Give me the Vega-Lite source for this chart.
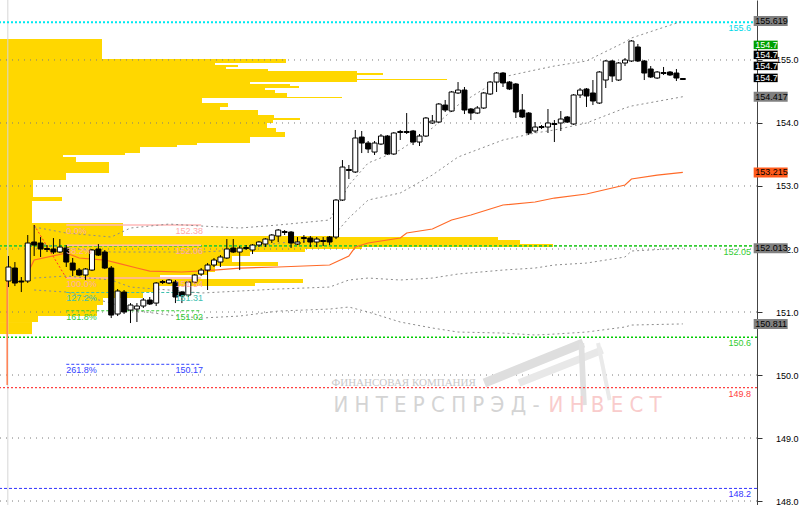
{
"$schema":"https://vega.github.io/schema/vega-lite/v6.json",
"width":757,"height":505,
"autosize":{"type":"none"},
"padding":{"left":0,"top":0,"right":43,"bottom":0},
"background":"#ffffff",
"config":{"view":{"stroke":null},"font":"Liberation Sans"},
"datasets":{
"candles":[
{"i":0,"o":151.492,"h":151.889,"l":151.396,"c":151.714},
{"i":1,"o":151.698,"h":151.793,"l":151.412,"c":151.460},
{"i":2,"o":151.492,"h":151.555,"l":151.317,"c":151.476},
{"i":3,"o":151.492,"h":152.222,"l":151.460,"c":152.095},
{"i":4,"o":152.111,"h":152.381,"l":151.889,"c":152.063},
{"i":5,"o":152.095,"h":152.190,"l":151.873,"c":152.000},
{"i":6,"o":152.008,"h":152.063,"l":151.952,"c":151.992},
{"i":7,"o":152.000,"h":152.174,"l":151.920,"c":151.952},
{"i":8,"o":151.952,"h":152.158,"l":151.936,"c":152.031},
{"i":9,"o":152.015,"h":152.063,"l":151.714,"c":151.793},
{"i":10,"o":151.777,"h":151.857,"l":151.571,"c":151.666},
{"i":11,"o":151.666,"h":151.698,"l":151.571,"c":151.587},
{"i":12,"o":151.587,"h":151.698,"l":151.508,"c":151.682},
{"i":13,"o":151.666,"h":152.000,"l":151.650,"c":151.984},
{"i":14,"o":152.000,"h":152.079,"l":151.889,"c":151.904},
{"i":15,"o":151.952,"h":151.984,"l":151.682,"c":151.698},
{"i":16,"o":151.698,"h":151.730,"l":150.904,"c":150.952},
{"i":17,"o":150.968,"h":151.365,"l":150.936,"c":151.333},
{"i":18,"o":151.317,"h":151.349,"l":150.968,"c":151.000},
{"i":19,"o":151.031,"h":151.142,"l":150.825,"c":151.111},
{"i":20,"o":151.047,"h":151.142,"l":150.841,"c":151.095},
{"i":21,"o":151.095,"h":151.222,"l":151.063,"c":151.190},
{"i":22,"o":151.190,"h":151.238,"l":151.111,"c":151.127},
{"i":23,"o":151.142,"h":151.476,"l":151.095,"c":151.460},
{"i":24,"o":151.468,"h":151.508,"l":151.444,"c":151.484},
{"i":25,"o":151.460,"h":151.523,"l":151.444,"c":151.508},
{"i":26,"o":151.476,"h":151.508,"l":151.142,"c":151.238},
{"i":27,"o":151.317,"h":151.333,"l":151.142,"c":151.254},
{"i":28,"o":151.269,"h":151.492,"l":151.238,"c":151.476},
{"i":29,"o":151.476,"h":151.603,"l":151.444,"c":151.587},
{"i":30,"o":151.603,"h":151.698,"l":151.571,"c":151.666},
{"i":31,"o":151.666,"h":151.777,"l":151.349,"c":151.746},
{"i":32,"o":151.746,"h":151.857,"l":151.714,"c":151.825},
{"i":33,"o":151.793,"h":151.904,"l":151.714,"c":151.873},
{"i":34,"o":151.857,"h":152.158,"l":151.841,"c":152.000},
{"i":35,"o":152.015,"h":152.158,"l":151.936,"c":151.952},
{"i":36,"o":151.952,"h":152.047,"l":151.666,"c":152.015},
{"i":37,"o":152.023,"h":152.063,"l":151.984,"c":152.008},
{"i":38,"o":151.984,"h":152.079,"l":151.920,"c":152.063},
{"i":39,"o":152.063,"h":152.127,"l":152.031,"c":152.111},
{"i":40,"o":152.079,"h":152.174,"l":152.031,"c":152.158},
{"i":41,"o":152.142,"h":152.238,"l":152.095,"c":152.222},
{"i":42,"o":152.206,"h":152.317,"l":152.111,"c":152.301},
{"i":43,"o":152.277,"h":152.301,"l":152.222,"c":152.262},
{"i":44,"o":152.269,"h":152.285,"l":152.015,"c":152.095},
{"i":45,"o":152.079,"h":152.190,"l":152.063,"c":152.111},
{"i":46,"o":152.182,"h":152.222,"l":152.095,"c":152.166},
{"i":47,"o":152.174,"h":152.206,"l":152.031,"c":152.111},
{"i":48,"o":152.111,"h":152.190,"l":152.031,"c":152.158},
{"i":49,"o":152.135,"h":152.190,"l":152.047,"c":152.119},
{"i":50,"o":152.190,"h":152.206,"l":152.063,"c":152.111},
{"i":51,"o":152.190,"h":152.793,"l":152.158,"c":152.777},
{"i":52,"o":152.777,"h":153.412,"l":152.762,"c":153.301},
{"i":53,"o":153.262,"h":153.333,"l":153.111,"c":153.246},
{"i":54,"o":153.222,"h":153.889,"l":153.206,"c":153.762},
{"i":55,"o":153.777,"h":153.873,"l":153.523,"c":153.682},
{"i":56,"o":153.682,"h":153.714,"l":153.523,"c":153.587},
{"i":57,"o":153.539,"h":153.714,"l":153.492,"c":153.682},
{"i":58,"o":153.666,"h":153.825,"l":153.650,"c":153.793},
{"i":59,"o":153.793,"h":153.809,"l":153.492,"c":153.508},
{"i":60,"o":153.508,"h":153.857,"l":153.492,"c":153.841},
{"i":61,"o":153.865,"h":153.889,"l":153.730,"c":153.849},
{"i":62,"o":153.865,"h":154.158,"l":153.825,"c":153.849},
{"i":63,"o":153.873,"h":153.889,"l":153.650,"c":153.698},
{"i":64,"o":153.698,"h":153.825,"l":153.635,"c":153.793},
{"i":65,"o":153.793,"h":154.095,"l":153.777,"c":154.079},
{"i":66,"o":154.000,"h":154.127,"l":153.984,"c":154.031},
{"i":67,"o":154.015,"h":154.317,"l":154.000,"c":154.301},
{"i":68,"o":154.285,"h":154.365,"l":154.174,"c":154.206},
{"i":69,"o":154.190,"h":154.508,"l":154.174,"c":154.492},
{"i":70,"o":154.476,"h":154.650,"l":154.460,"c":154.523},
{"i":71,"o":154.523,"h":154.571,"l":154.142,"c":154.206},
{"i":72,"o":154.222,"h":154.238,"l":154.047,"c":154.158},
{"i":73,"o":154.158,"h":154.269,"l":154.142,"c":154.238},
{"i":74,"o":154.238,"h":154.492,"l":154.222,"c":154.476},
{"i":75,"o":154.460,"h":154.666,"l":154.444,"c":154.650},
{"i":76,"o":154.650,"h":154.809,"l":154.492,"c":154.793},
{"i":77,"o":154.793,"h":154.809,"l":154.571,"c":154.635},
{"i":78,"o":154.650,"h":154.666,"l":154.523,"c":154.539},
{"i":79,"o":154.619,"h":154.635,"l":154.079,"c":154.174},
{"i":80,"o":154.206,"h":154.460,"l":154.079,"c":154.095},
{"i":81,"o":154.158,"h":154.174,"l":153.809,"c":153.841},
{"i":82,"o":153.873,"h":154.015,"l":153.841,"c":153.936},
{"i":83,"o":153.944,"h":153.968,"l":153.904,"c":153.928},
{"i":84,"o":153.936,"h":154.222,"l":153.841,"c":154.000},
{"i":85,"o":153.992,"h":154.047,"l":153.698,"c":153.976},
{"i":86,"o":154.000,"h":154.190,"l":153.873,"c":154.063},
{"i":87,"o":154.095,"h":154.111,"l":154.000,"c":154.015},
{"i":88,"o":153.984,"h":154.460,"l":153.968,"c":154.444},
{"i":89,"o":154.444,"h":154.555,"l":154.396,"c":154.523},
{"i":90,"o":154.539,"h":154.555,"l":154.254,"c":154.428},
{"i":91,"o":154.476,"h":154.682,"l":154.285,"c":154.349},
{"i":92,"o":154.317,"h":154.825,"l":154.301,"c":154.809},
{"i":93,"o":154.682,"h":155.000,"l":154.555,"c":154.984},
{"i":94,"o":154.984,"h":155.000,"l":154.650,"c":154.746},
{"i":95,"o":154.682,"h":154.968,"l":154.666,"c":154.952},
{"i":96,"o":154.952,"h":155.031,"l":154.904,"c":155.000},
{"i":97,"o":154.984,"h":155.317,"l":154.968,"c":155.301},
{"i":98,"o":155.206,"h":155.254,"l":154.968,"c":154.984},
{"i":99,"o":154.984,"h":155.000,"l":154.682,"c":154.793},
{"i":100,"o":154.857,"h":154.904,"l":154.714,"c":154.730},
{"i":101,"o":154.714,"h":154.825,"l":154.698,"c":154.809},
{"i":102,"o":154.801,"h":154.889,"l":154.762,"c":154.785},
{"i":103,"o":154.809,"h":154.825,"l":154.746,"c":154.762},
{"i":104,"o":154.793,"h":154.857,"l":154.666,"c":154.714},
{"i":105,"o":154.706,"h":154.714,"l":154.682,"c":154.690}
],
"profile":[
{"hi":155.333,"lo":155.015,"vol":102},{"hi":155.015,"lo":154.952,"vol":286},{"hi":154.952,"lo":154.920,"vol":215},{"hi":154.920,"lo":154.889,"vol":238},{"hi":154.889,"lo":154.857,"vol":226},{"hi":154.857,"lo":154.825,"vol":268},{"hi":154.825,"lo":154.793,"vol":357},{"hi":154.793,"lo":154.762,"vol":383},{"hi":154.762,"lo":154.698,"vol":357},{"hi":154.698,"lo":154.682,"vol":447},{"hi":154.682,"lo":154.650,"vol":357},{"hi":154.650,"lo":154.619,"vol":250},{"hi":154.619,"lo":154.587,"vol":290},{"hi":154.587,"lo":154.555,"vol":299},{"hi":154.555,"lo":154.523,"vol":265},{"hi":154.523,"lo":154.476,"vol":275},{"hi":154.476,"lo":154.412,"vol":287},{"hi":154.412,"lo":154.396,"vol":342},{"hi":154.396,"lo":154.317,"vol":202},{"hi":154.317,"lo":154.254,"vol":228},{"hi":154.254,"lo":154.206,"vol":220},{"hi":154.206,"lo":154.127,"vol":258},{"hi":154.127,"lo":154.079,"vol":274},{"hi":154.079,"lo":154.047,"vol":300},{"hi":154.047,"lo":154.000,"vol":273},{"hi":154.000,"lo":153.920,"vol":267},{"hi":153.920,"lo":153.857,"vol":276},{"hi":153.857,"lo":153.777,"vol":285},{"hi":153.777,"lo":153.682,"vol":250},{"hi":153.682,"lo":153.650,"vol":197},{"hi":153.650,"lo":153.619,"vol":177},{"hi":153.619,"lo":153.523,"vol":140},{"hi":153.523,"lo":153.492,"vol":125},{"hi":153.492,"lo":153.460,"vol":63},{"hi":153.460,"lo":153.381,"vol":76},{"hi":153.381,"lo":153.206,"vol":109},{"hi":153.206,"lo":153.095,"vol":66},{"hi":153.095,"lo":152.825,"vol":33},{"hi":152.825,"lo":152.762,"vol":62},{"hi":152.762,"lo":152.412,"vol":32},{"hi":152.412,"lo":152.206,"vol":123},{"hi":152.206,"lo":152.190,"vol":335},{"hi":152.190,"lo":152.142,"vol":498},{"hi":152.142,"lo":152.079,"vol":520},{"hi":152.079,"lo":152.031,"vol":553},{"hi":152.031,"lo":152.000,"vol":362},{"hi":152.000,"lo":151.952,"vol":305},{"hi":151.952,"lo":151.889,"vol":250},{"hi":151.889,"lo":151.793,"vol":232},{"hi":151.793,"lo":151.730,"vol":278},{"hi":151.730,"lo":151.635,"vol":215},{"hi":151.635,"lo":151.587,"vol":208},{"hi":151.587,"lo":151.523,"vol":160},{"hi":151.523,"lo":151.460,"vol":303},{"hi":151.460,"lo":151.412,"vol":255},{"hi":151.412,"lo":151.317,"vol":157},{"hi":151.317,"lo":151.222,"vol":143},{"hi":151.222,"lo":151.111,"vol":103},{"hi":151.111,"lo":150.936,"vol":97},{"hi":150.936,"lo":150.841,"vol":38},{"hi":150.841,"lo":150.650,"vol":32}
],
"ma":[
{"i":3,"p":151.619},{"i":4,"p":151.825},{"i":9,"p":151.936},{"i":11,"p":151.857},{"i":15,"p":151.825},{"i":17,"p":151.777},{"i":20,"p":151.698},{"i":22,"p":151.650},{"i":27,"p":151.635},{"i":32,"p":151.666},{"i":36,"p":151.698},{"i":42,"p":151.714},{"i":50,"p":151.746},{"i":53,"p":151.889},{"i":54,"p":152.031},{"i":56,"p":152.095},{"i":61,"p":152.174},{"i":62,"p":152.254},{"i":66,"p":152.317},{"i":69,"p":152.460},{"i":72,"p":152.539},{"i":75,"p":152.635},{"i":77,"p":152.698},{"i":82,"p":152.746},{"i":85,"p":152.809},{"i":90,"p":152.873},{"i":96,"p":153.016},{"i":97,"p":153.111},{"i":101,"p":153.174},{"i":105,"p":153.215}
],
"bands":[
{"i":4,"A":152.349,"B":152.095,"C":151.539,"D":151.349},
{"i":9,"A":152.254,"B":152.015,"C":151.571,"D":151.317},
{"i":16,"A":152.190,"B":151.952,"C":151.508,"D":151.142},
{"i":19,"A":152.333,"B":151.952,"C":151.396,"D":151.031},
{"i":25,"A":152.396,"B":151.952,"C":151.349,"D":150.952},
{"i":30,"A":152.365,"B":151.952,"C":151.301,"D":150.904},
{"i":36,"A":152.333,"B":151.984,"C":151.333,"D":150.936},
{"i":42,"A":152.381,"B":152.095,"C":151.365,"D":151.015},
{"i":50,"A":152.460,"B":152.142,"C":151.396,"D":151.047},
{"i":53,"A":153.015,"B":152.492,"C":151.508,"D":151.079},
{"i":56,"A":153.365,"B":152.777,"C":151.539,"D":151.000},
{"i":61,"A":153.571,"B":152.889,"C":151.508,"D":150.841},
{"i":66,"A":153.920,"B":153.174,"C":151.539,"D":150.746},
{"i":70,"A":154.285,"B":153.460,"C":151.603,"D":150.682},
{"i":77,"A":154.730,"B":153.730,"C":151.666,"D":150.666},
{"i":82,"A":154.841,"B":153.841,"C":151.698,"D":150.635},
{"i":85,"A":154.904,"B":153.889,"C":151.746,"D":150.650},
{"i":90,"A":154.984,"B":154.000,"C":151.777,"D":150.682},
{"i":96,"A":155.285,"B":154.238,"C":151.873,"D":150.762},
{"i":97,"A":155.349,"B":154.269,"C":151.968,"D":150.793},
{"i":105,"A":155.619,"B":154.417,"C":152.013,"D":150.811}
],
"logo":[
{"s":"A","i":74.1,"p":149.873},{"s":"A","i":89.5,"p":150.508},
{"s":"B","i":79.5,"p":149.873},{"s":"B","i":92.5,"p":150.397},
{"s":"C","i":89.2,"p":150.508},{"s":"C","i":89.6,"p":149.523},
{"s":"D","i":91.8,"p":150.508},{"s":"D","i":93.6,"p":149.603}
],
"grid":[{"p":148},{"p":149},{"p":150},{"p":151},{"p":152},{"p":153},{"p":154},{"p":155}],
"levels":[{"name":"155.6","p":155.6},{"name":"152.05","p":152.05},{"name":"150.6","p":150.6},{"name":"149.8","p":149.8},{"name":"148.2","p":148.2}],
"fib":[{"lvl":"0.0%","p":152.38},{"lvl":"38.2%","p":152.06},{"lvl":"100.0%","p":151.54},{"lvl":"127.2%","p":151.31},{"lvl":"161.8%","p":151.02},{"lvl":"261.8%","p":150.17}],
"boxes":[{"label":"155.619","p":155.619,"kind":"gray"},{"label":"154.417","p":154.417,"kind":"gray"},{"label":"153.215","p":153.215,"kind":"orange"},{"label":"152.013","p":152.013,"kind":"gray"},{"label":"150.811","p":150.811,"kind":"gray"}],
"stack":[{"label":"154.7","p":154.7,"slot":0,"kind":"green"},{"label":"154.7","p":154.7,"slot":1,"kind":"black"},{"label":"154.7","p":154.7,"slot":2,"kind":"black"},{"label":"154.7","p":154.7,"slot":3,"kind":"black"}]
},
"resolve":{"scale":{"x":"independent"}},
"layer":[
{"data":{"name":"profile"},"mark":{"type":"rect","color":"#FFD700"},
 "encoding":{
  "x":{"field":"vol","type":"quantitative","scale":{"domain":[0,757],"nice":false,"zero":false},"axis":null},
  "x2":{"datum":0},
  "y":{"field":"hi","type":"quantitative","scale":{"domain":[147.937,155.952],"nice":false,"zero":false},
       "axis":{"orient":"right","values":[148,149,150,151,152,153,154,155],"format":".1f","grid":false,"title":null,"tickSize":5,"labelAlign":"right","labelPadding":36,"labelFontSize":9,"labelColor":"#000000","tickColor":"#333333","domainColor":"#444444","labelBaseline":"middle"}},
  "y2":{"field":"lo"}}},
{"resolve":{"scale":{"color":"independent","fill":"independent","strokeDash":"independent","strokeWidth":"independent"}},
 "layer":[
 {"data":{"name":"grid"},"mark":{"type":"rule","color":"#7a7a7a","strokeDash":[1,5],"strokeWidth":1},
  "encoding":{"y":{"field":"p","type":"quantitative","scale":{"domain":[147.937,155.952],"nice":false,"zero":false}}}},
 {"data":{"values":[{"i":-0.1}]},"mark":{"type":"rule","color":"#d6d6d6","strokeWidth":1},
  "encoding":{"x":{"field":"i","type":"quantitative","scale":{"domain":[-0.54,115.77],"nice":false,"zero":false},"axis":null}}},
 {"data":{"name":"logo"},"mark":{"type":"line","strokeCap":"butt"},
  "encoding":{
   "x":{"field":"i","type":"quantitative","scale":{"domain":[-0.54,115.77],"nice":false,"zero":false},"axis":null},
   "y":{"field":"p","type":"quantitative","scale":{"domain":[147.937,155.952],"nice":false,"zero":false}},
   "detail":{"field":"s","type":"nominal"},
   "color":{"field":"s","type":"nominal","scale":{"domain":["A","B","C","D"],"range":["#dedede","#e8e8e8","#e0e0e0","#eaeaea"]},"legend":null},
   "strokeWidth":{"field":"s","type":"ordinal","scale":{"domain":["A","B","C","D"],"range":[9,4,10,7]},"legend":null}}},
 {"data":{"name":"levels"},"mark":{"type":"rule"},
  "encoding":{
   "y":{"field":"p","type":"quantitative","scale":{"domain":[147.937,155.952],"nice":false,"zero":false}},
   "color":{"field":"name","type":"nominal","scale":{"domain":["155.6","152.05","150.6","149.8","148.2"],"range":["#00e8f0","#33cc33","#00cc00","#ff4040","#3333ff"]},"legend":null},
   "strokeWidth":{"field":"name","type":"ordinal","scale":{"domain":["155.6","152.05","150.6","149.8","148.2"],"range":[2,1,2.5,1.5,1]},"legend":null},
   "strokeDash":{"field":"name","type":"nominal","scale":{"domain":["155.6","152.05","150.6","149.8","148.2"],"range":[[2,2],[3,2],[2,2],[2,2],[3,2]]},"legend":null}}},
 {"data":{"name":"fib"},"mark":{"type":"rule"},
  "encoding":{
   "x":{"datum":9,"type":"quantitative","scale":{"domain":[-0.54,115.77],"nice":false,"zero":false},"axis":null},
   "x2":{"datum":30},
   "y":{"field":"p","type":"quantitative","scale":{"domain":[147.937,155.952],"nice":false,"zero":false}},
   "color":{"field":"lvl","type":"nominal","scale":{"domain":["0.0%","38.2%","100.0%","127.2%","161.8%","261.8%"],"range":["#ffb8b8","#ffb8b8","#ffb0b0","#40c0b0","#33cc33","#3344ff"]},"legend":null},
   "strokeWidth":{"field":"lvl","type":"ordinal","scale":{"domain":["0.0%","38.2%","100.0%","127.2%","161.8%","261.8%"],"range":[1.5,1,2.5,1,1,1]},"legend":null},
   "strokeDash":{"field":"lvl","type":"nominal","scale":{"domain":["0.0%","38.2%","100.0%","127.2%","161.8%","261.8%"],"range":[[1,0],[1,0],[1,0],[3,2],[3,2],[3,2]]},"legend":null}}},
 {"data":{"values":[{"i":4,"p":152.38},{"i":9,"p":151.54}]},"mark":{"type":"line","color":"#ff3030","strokeDash":[2,2],"strokeWidth":1},
  "encoding":{
   "x":{"field":"i","type":"quantitative","scale":{"domain":[-0.54,115.77],"nice":false,"zero":false},"axis":null},
   "y":{"field":"p","type":"quantitative","scale":{"domain":[147.937,155.952],"nice":false,"zero":false}}}},
 {"data":{"values":[{"i":-0.2,"a":151.49,"b":149.84}]},"mark":{"type":"rule","color":"#ff7f50","strokeWidth":1.5},
  "encoding":{
   "x":{"field":"i","type":"quantitative","scale":{"domain":[-0.54,115.77],"nice":false,"zero":false},"axis":null},
   "y":{"field":"a","type":"quantitative","scale":{"domain":[147.937,155.952],"nice":false,"zero":false}},
   "y2":{"field":"b"}}},
 {"data":{"name":"bands"},"transform":[{"fold":["A","B","C","D"],"as":["band","p"]}],
  "mark":{"type":"line","color":"#8c8c8c","strokeDash":[2,3],"strokeWidth":1},
  "encoding":{
   "x":{"field":"i","type":"quantitative","scale":{"domain":[-0.54,115.77],"nice":false,"zero":false},"axis":null},
   "y":{"field":"p","type":"quantitative","scale":{"domain":[147.937,155.952],"nice":false,"zero":false}},
   "detail":{"field":"band","type":"nominal"}}},
 {"data":{"name":"ma"},"mark":{"type":"line","color":"#ff6a28","strokeWidth":1.2},
  "encoding":{
   "x":{"field":"i","type":"quantitative","scale":{"domain":[-0.54,115.77],"nice":false,"zero":false},"axis":null},
   "y":{"field":"p","type":"quantitative","scale":{"domain":[147.937,155.952],"nice":false,"zero":false}}}},
 {"data":{"name":"candles"},"mark":{"type":"rule","color":"#000000","strokeWidth":1},
  "encoding":{
   "x":{"field":"i","type":"quantitative","scale":{"domain":[-0.54,115.77],"nice":false,"zero":false},"axis":null},
   "y":{"field":"l","type":"quantitative","scale":{"domain":[147.937,155.952],"nice":false,"zero":false},
        "axis":{"orient":"right","values":[148,149,150,151,152,153,154,155],"format":".1f","grid":false,"title":null,"tickSize":5,"labelAlign":"right","labelPadding":36,"labelFontSize":9,"labelColor":"#000000","tickColor":"#333333","domainColor":"#444444","labelBaseline":"middle"}},
   "y2":{"field":"h"}}},
 {"data":{"name":"candles"},"mark":{"type":"bar","size":5,"stroke":"#000000","strokeWidth":1},
  "encoding":{
   "x":{"field":"i","type":"quantitative","scale":{"domain":[-0.54,115.77],"nice":false,"zero":false},"axis":null},
   "y":{"field":"o","type":"quantitative","scale":{"domain":[147.937,155.952],"nice":false,"zero":false}},
   "y2":{"field":"c"},
   "fill":{"condition":{"test":"datum.c >= datum.o","value":"#ffffff"},"value":"#000000"}}},
 {"data":{"name":"fib"},"mark":{"type":"text","align":"left","baseline":"top","dy":2,"fontSize":9},
  "encoding":{
   "x":{"datum":9,"type":"quantitative","scale":{"domain":[-0.54,115.77],"nice":false,"zero":false},"axis":null},
   "y":{"field":"p","type":"quantitative","scale":{"domain":[147.937,155.952],"nice":false,"zero":false}},
   "text":{"field":"lvl"},
   "color":{"field":"lvl","type":"nominal","scale":{"domain":["0.0%","38.2%","100.0%","127.2%","161.8%","261.8%"],"range":["#ffaaaa","#ffaaaa","#ffaaaa","#40c0b0","#33cc33","#3344ff"]},"legend":null}}},
 {"data":{"name":"fib"},"mark":{"type":"text","align":"left","baseline":"top","dy":2,"fontSize":9},
  "encoding":{
   "x":{"datum":26,"type":"quantitative","scale":{"domain":[-0.54,115.77],"nice":false,"zero":false},"axis":null},
   "y":{"field":"p","type":"quantitative","scale":{"domain":[147.937,155.952],"nice":false,"zero":false}},
   "text":{"field":"p","type":"quantitative","format":".2f"},
   "color":{"field":"lvl","type":"nominal","scale":{"domain":["0.0%","38.2%","100.0%","127.2%","161.8%","261.8%"],"range":["#ffaaaa","#ffaaaa","#ffaaaa","#40c0b0","#33cc33","#3344ff"]},"legend":null}}},
 {"data":{"name":"levels"},"mark":{"type":"text","align":"right","baseline":"top","dy":2,"fontSize":9},
  "encoding":{
   "x":{"datum":115.6,"type":"quantitative","scale":{"domain":[-0.54,115.77],"nice":false,"zero":false},"axis":null},
   "y":{"field":"p","type":"quantitative","scale":{"domain":[147.937,155.952],"nice":false,"zero":false}},
   "text":{"field":"name"},
   "color":{"field":"name","type":"nominal","scale":{"domain":["155.6","152.05","150.6","149.8","148.2"],"range":["#00d8e8","#33cc33","#33cc33","#ff4040","#3333ff"]},"legend":null}}},
 {"data":{"values":[{"t":"ФИНАНСОВАЯ КОМПАНИЯ","i":50.3,"p":149.873}]},"mark":{"type":"text","align":"left","baseline":"middle","font":"Liberation Serif","fontSize":11,"color":"#c8c8c8"},
  "encoding":{
   "x":{"field":"i","type":"quantitative","scale":{"domain":[-0.54,115.77],"nice":false,"zero":false},"axis":null},
   "y":{"field":"p","type":"quantitative","scale":{"domain":[147.937,155.952],"nice":false,"zero":false}},
   "text":{"field":"t"}}},
 {"data":{"values":[{"t":"И Н Т Е Р С П Р Э Д -","i":50.6,"p":149.523}]},"mark":{"type":"text","align":"left","baseline":"middle","font":"Liberation Sans Narrow, DejaVu Sans Condensed, sans-serif","fontSize":22,"color":"#d4d4d4"},
  "encoding":{
   "x":{"field":"i","type":"quantitative","scale":{"domain":[-0.54,115.77],"nice":false,"zero":false},"axis":null},
   "y":{"field":"p","type":"quantitative","scale":{"domain":[147.937,155.952],"nice":false,"zero":false}},
   "text":{"field":"t"}}},
 {"data":{"values":[{"t":"И Н В Е С Т","i":84.1,"p":149.523}]},"mark":{"type":"text","align":"left","baseline":"middle","font":"Liberation Sans Narrow, DejaVu Sans Condensed, sans-serif","fontSize":22,"color":"#f9cccc"},
  "encoding":{
   "x":{"field":"i","type":"quantitative","scale":{"domain":[-0.54,115.77],"nice":false,"zero":false},"axis":null},
   "y":{"field":"p","type":"quantitative","scale":{"domain":[147.937,155.952],"nice":false,"zero":false}},
   "text":{"field":"t"}}},
 {"data":{"name":"boxes"},"mark":{"type":"point","shape":"M0,-1H6.8V1H0Z","size":100,"filled":true,"opacity":1,"strokeWidth":0},
  "encoding":{
   "x":{"datum":116.03,"type":"quantitative","scale":{"domain":[-0.54,115.77],"nice":false,"zero":false},"axis":null},
   "y":{"field":"p","type":"quantitative","scale":{"domain":[147.937,155.952],"nice":false,"zero":false}},
   "fill":{"field":"kind","type":"nominal","scale":{"domain":["gray","orange","green","black"],"range":["#808080","#ff5a1a","#00a000","#000000"]},"legend":null}}},
 {"data":{"name":"boxes"},"mark":{"type":"text","align":"left","baseline":"middle","dx":1.5,"fontSize":9},
  "encoding":{
   "x":{"datum":116.03,"type":"quantitative","scale":{"domain":[-0.54,115.77],"nice":false,"zero":false},"axis":null},
   "y":{"field":"p","type":"quantitative","scale":{"domain":[147.937,155.952],"nice":false,"zero":false}},
   "text":{"field":"label"},
   "color":{"field":"kind","type":"nominal","scale":{"domain":["gray","orange","green","black"],"range":["#000000","#000000","#ffffff","#ffffff"]},"legend":null}}},
 {"data":{"name":"stack"},"transform":[{"filter":"datum.slot == 0"}],"mark":{"type":"point","shape":"M0,-0.85H4.8V0.85H0Z","size":100,"filled":true,"opacity":1,"strokeWidth":0,"color":"#00a000","yOffset":-34},
  "encoding":{
   "x":{"datum":116.03,"type":"quantitative","scale":{"domain":[-0.54,115.77],"nice":false,"zero":false},"axis":null},
   "y":{"field":"p","type":"quantitative","scale":{"domain":[147.937,155.952],"nice":false,"zero":false}}}},
 {"data":{"name":"stack"},"transform":[{"filter":"datum.slot == 1"}],"mark":{"type":"point","shape":"M0,-0.85H4.8V0.85H0Z","size":100,"filled":true,"opacity":1,"strokeWidth":0,"color":"#000000","yOffset":-24},
  "encoding":{
   "x":{"datum":116.03,"type":"quantitative","scale":{"domain":[-0.54,115.77],"nice":false,"zero":false},"axis":null},
   "y":{"field":"p","type":"quantitative","scale":{"domain":[147.937,155.952],"nice":false,"zero":false}}}},
 {"data":{"name":"stack"},"transform":[{"filter":"datum.slot == 2"}],"mark":{"type":"point","shape":"M0,-0.85H4.8V0.85H0Z","size":100,"filled":true,"opacity":1,"strokeWidth":0,"color":"#000000","yOffset":-13},
  "encoding":{
   "x":{"datum":116.03,"type":"quantitative","scale":{"domain":[-0.54,115.77],"nice":false,"zero":false},"axis":null},
   "y":{"field":"p","type":"quantitative","scale":{"domain":[147.937,155.952],"nice":false,"zero":false}}}},
 {"data":{"name":"stack"},"transform":[{"filter":"datum.slot == 3"}],"mark":{"type":"point","shape":"M0,-0.85H4.8V0.85H0Z","size":100,"filled":true,"opacity":1,"strokeWidth":0,"color":"#000000","yOffset":-1},
  "encoding":{
   "x":{"datum":116.03,"type":"quantitative","scale":{"domain":[-0.54,115.77],"nice":false,"zero":false},"axis":null},
   "y":{"field":"p","type":"quantitative","scale":{"domain":[147.937,155.952],"nice":false,"zero":false}}}},
 {"data":{"name":"stack"},"transform":[{"filter":"datum.slot == 0"}],"mark":{"type":"text","align":"left","baseline":"middle","dx":1.5,"fontSize":9,"color":"#ffffff","yOffset":-34},
  "encoding":{
   "x":{"datum":116.03,"type":"quantitative","scale":{"domain":[-0.54,115.77],"nice":false,"zero":false},"axis":null},
   "y":{"field":"p","type":"quantitative","scale":{"domain":[147.937,155.952],"nice":false,"zero":false}},
   "text":{"field":"label"}}},
 {"data":{"name":"stack"},"transform":[{"filter":"datum.slot == 1"}],"mark":{"type":"text","align":"left","baseline":"middle","dx":1.5,"fontSize":9,"color":"#ffffff","yOffset":-24},
  "encoding":{
   "x":{"datum":116.03,"type":"quantitative","scale":{"domain":[-0.54,115.77],"nice":false,"zero":false},"axis":null},
   "y":{"field":"p","type":"quantitative","scale":{"domain":[147.937,155.952],"nice":false,"zero":false}},
   "text":{"field":"label"}}},
 {"data":{"name":"stack"},"transform":[{"filter":"datum.slot == 2"}],"mark":{"type":"text","align":"left","baseline":"middle","dx":1.5,"fontSize":9,"color":"#ffffff","yOffset":-13},
  "encoding":{
   "x":{"datum":116.03,"type":"quantitative","scale":{"domain":[-0.54,115.77],"nice":false,"zero":false},"axis":null},
   "y":{"field":"p","type":"quantitative","scale":{"domain":[147.937,155.952],"nice":false,"zero":false}},
   "text":{"field":"label"}}},
 {"data":{"name":"stack"},"transform":[{"filter":"datum.slot == 3"}],"mark":{"type":"text","align":"left","baseline":"middle","dx":1.5,"fontSize":9,"color":"#ffffff","yOffset":-1},
  "encoding":{
   "x":{"datum":116.03,"type":"quantitative","scale":{"domain":[-0.54,115.77],"nice":false,"zero":false},"axis":null},
   "y":{"field":"p","type":"quantitative","scale":{"domain":[147.937,155.952],"nice":false,"zero":false}},
   "text":{"field":"label"}}}
 ]}
]
}
